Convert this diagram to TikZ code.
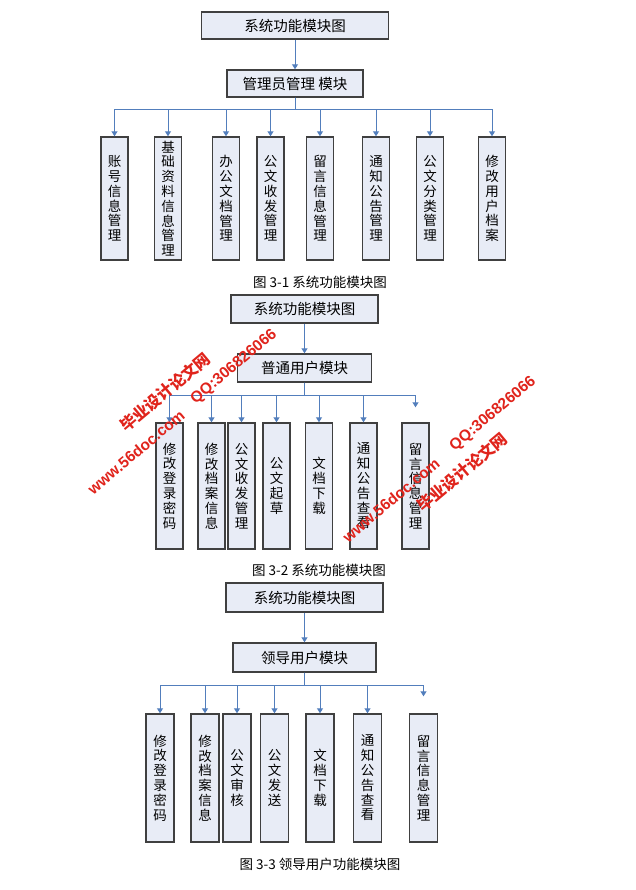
\documentclass[tikz,border=0pt]{standalone}
\usepackage{fontspec}
\newfontfamily\cjk{Noto Sans CJK SC}
\newfontfamily\wmfont{Liberation Sans}
\usetikzlibrary{arrows.meta}
\definecolor{boxfill}{RGB}{232,236,246}
\definecolor{linkblue}{RGB}{82,126,188}
\definecolor{markred}{RGB}{224,36,28}
\tikzset{
	titlebox/.style={draw=black!75,line width=1.4pt,fill=boxfill,inner sep=0pt,font=\cjk\fontsize{14.5}{16}\selectfont},
	leafbox/.style={draw=black!75,line width=1.4pt,fill=boxfill,inner sep=0pt,minimum width=27pt,align=center,font=\cjk\fontsize{13.5}{14.8}\selectfont},
	link/.style={draw=linkblue,line width=1pt,-{Triangle[width=6pt,length=5pt]}},
	figcap/.style={font=\cjk\fontsize{13.5}{15}\selectfont},
	wmcn/.style={text=markred,rotate=40,font=\cjk\bfseries\fontsize{16}{16}\selectfont},
	wmlat/.style={text=markred,rotate=40,font=\wmfont\bfseries\fontsize{15.5}{15.5}\selectfont}
}
\begin{document}
\begin{tikzpicture}[x=1pt,y=-1pt]
	\useasboundingbox (0,0) rectangle (636,890);
	
	% 3-1
	\node [titlebox,minimum width=187pt,minimum height=27pt] (sys1) at (295,25.5) {系统功能模块图};
	\node [titlebox,minimum width=136pt,minimum height=27pt] (adm) at (295,83.5) {管理员管理 模块};
	\draw [link] (sys1) -- (adm);
	\node [leafbox,minimum height=123pt] (a1) at (114.5,198.5) {账\\号\\信\\息\\管\\理};
	\node [leafbox,minimum height=123pt] (a2) at (168,198.5) {基\\础\\资\\料\\信\\息\\管\\理};
	\node [leafbox,minimum height=123pt] (a3) at (226,198.5) {办\\公\\文\\档\\管\\理};
	\node [leafbox,minimum height=123pt] (a4) at (270.5,198.5) {公\\文\\收\\发\\管\\理};
	\node [leafbox,minimum height=123pt] (a5) at (320,198.5) {留\\言\\信\\息\\管\\理};
	\node [leafbox,minimum height=123pt] (a6) at (376,198.5) {通\\知\\公\\告\\管\\理};
	\node [leafbox,minimum height=123pt] (a7) at (430,198.5) {公\\文\\分\\类\\管\\理};
	\node [leafbox,minimum height=123pt] (a8) at (492,198.5) {修\\改\\用\\户\\档\\案};
	\foreach \i in {1,...,8}
		\draw [link] (adm.south) -- ++(0,12) -| (a\i.north);
	\node [figcap] (cap1) at (320,282) {图 3-1 系统功能模块图};
	
	% 3-2
	\node [titlebox,minimum width=147pt,minimum height=28pt] (sys2) at (304.5,309) {系统功能模块图};
	\node [titlebox,minimum width=134pt,minimum height=28pt] (usr) at (304.5,368) {普通用户模块};
	\draw [link] (sys2) -- (usr);
	\node [leafbox,minimum height=126pt] (b1) at (169.5,486) {修\\改\\登\\录\\密\\码};
	\node [leafbox,minimum height=126pt] (b2) at (211.5,486) {修\\改\\档\\案\\信\\息};
	\node [leafbox,minimum height=126pt] (b3) at (241.5,486) {公\\文\\收\\发\\管\\理};
	\node [leafbox,minimum height=126pt] (b4) at (276.5,486) {公\\文\\起\\草};
	\node [leafbox,minimum height=126pt] (b5) at (319,486) {文\\档\\下\\载};
	\node [leafbox,minimum height=126pt] (b6) at (363.5,486) {通\\知\\公\\告\\查\\看};
	\node [leafbox,minimum height=126pt] (b7) at (415.5,486) {留\\言\\信\\息\\管\\理};
	\coordinate (b7end) at ([yshift=15pt]b7.north);
	\foreach \i in {1,...,6}
		\draw [link] (usr.south) -- ++(0,13) -| (b\i.north);
	\draw [link] (usr.south) -- ++(0,13) -| (b7end);
	\node [figcap] (cap2) at (319,570) {图 3-2 系统功能模块图};
	
	% 3-3
	\node [titlebox,minimum width=157pt,minimum height=29pt] (sys3) at (304.5,597.5) {系统功能模块图};
	\node [titlebox,minimum width=143pt,minimum height=29pt] (lead) at (304.5,657.5) {领导用户模块};
	\draw [link] (sys3) -- (lead);
	\node [leafbox,minimum width=28pt,minimum height=128pt] (c1) at (160,778) {修\\改\\登\\录\\密\\码};
	\node [leafbox,minimum width=28pt,minimum height=128pt] (c2) at (205,778) {修\\改\\档\\案\\信\\息};
	\node [leafbox,minimum width=28pt,minimum height=128pt] (c3) at (237,778) {公\\文\\审\\核};
	\node [leafbox,minimum width=28pt,minimum height=128pt] (c4) at (274.5,778) {公\\文\\发\\送};
	\node [leafbox,minimum width=28pt,minimum height=128pt] (c5) at (320,778) {文\\档\\下\\载};
	\node [leafbox,minimum width=28pt,minimum height=128pt] (c6) at (367.5,778) {通\\知\\公\\告\\查\\看};
	\node [leafbox,minimum width=28pt,minimum height=128pt] (c7) at (423.5,778) {留\\言\\信\\息\\管\\理};
	\coordinate (c7end) at ([yshift=17pt]c7.north);
	\foreach \i in {1,...,6}
		\draw [link] (lead.south) -- ++(0,13) -| (c\i.north);
	\draw [link] (lead.south) -- ++(0,13) -| (c7end);
	\node [figcap] (cap3) at (320,864) {图 3-3 领导用户功能模块图};
	
	% watermarks
	\node [wmcn] (wm1) at (165,392) {毕业设计论文网};
	\node [wmlat] (wm2) at (136,452) {www.56doc.com};
	\node [wmlat] (wm3) at (234,367) {QQ:306826066};
	\node [wmlat] (wm4) at (391,500) {www.56doc.com};
	\node [wmlat] (wm5) at (493,414) {QQ:306826066};
	\node [wmcn] (wm6) at (462,472) {毕业设计论文网};
\end{tikzpicture}
\end{document}
